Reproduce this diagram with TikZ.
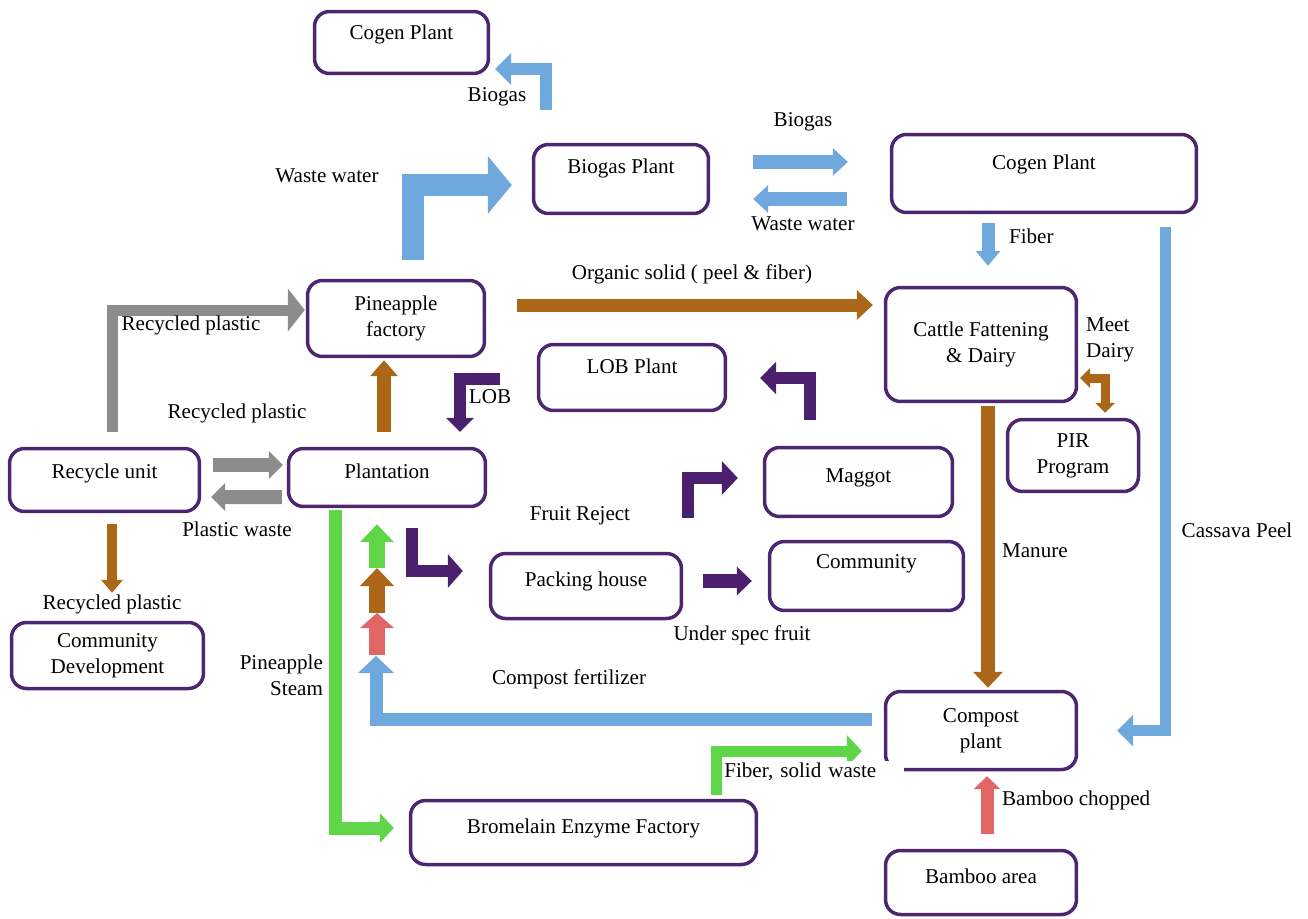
\documentclass[tikz,border=0pt]{standalone}
\usepackage{fontspec}
\setmainfont{Liberation Serif}
\usetikzlibrary{arrows.meta}
\definecolor{boxpurple}{RGB}{78,38,112}
\definecolor{arrpurple}{RGB}{75,32,110}
\definecolor{flowblue}{RGB}{111,168,220}
\definecolor{flowgray}{RGB}{140,140,140}
\definecolor{flowbrown}{RGB}{172,102,24}
\definecolor{flowgreen}{RGB}{94,214,72}
\definecolor{flowred}{RGB}{226,102,102}

\begin{document}
\begin{tikzpicture}[x=0.02cm, y=-0.02cm,
    font=\fontsize{12}{14.8}\selectfont,
    box/.style 2 args={draw=boxpurple, line width=0.07cm, rounded corners=0.3cm, minimum width=#1, minimum height=#2},
    flow/.style n args={4}{draw=#1, line width=#2, line join=miter, -{Triangle[length=#3, width=#4, line width=0pt]}},
    lbl/.style={inner sep=1pt}]
    \useasboundingbox (0,0) rectangle (1308,919);

    % boxes
    \node[box={3.48cm}{1.24cm}, text depth=0.40cm] (cogenA) at (401.5,42.5) {Cogen Plant};
    \node[box={3.50cm}{1.38cm}, text depth=0.52cm] (biogasP) at (621,179) {Biogas Plant};
    \node[box={6.10cm}{1.56cm}, text depth=0.44cm] (cogenB) at (1044,173.5) {Cogen Plant};
    \node[box={3.54cm}{1.52cm}, align=center] (pineF) at (396,318.5) {Pineapple\\factory};
    \node[box={3.82cm}{2.28cm}, align=center] (cattle) at (981,344.5) {Cattle Fattening\\\& Dairy};
    \node[box={3.74cm}{1.32cm}, text depth=0.44cm] (lobP) at (632,377.5) {LOB Plant};
    \node[box={2.62cm}{1.44cm}, align=center] (pir) at (1073,455.5) {PIR\\Program};
    \node[box={3.80cm}{1.26cm}, text depth=0.36cm] (recyc) at (104.5,480) {Recycle unit};
    \node[box={3.94cm}{1.16cm}, text depth=0.24cm] (plant) at (387,477.5) {Plantation};
    \node[box={3.76cm}{1.38cm}, text depth=0.24cm] (maggot) at (858.5,482) {Maggot};
    \node[box={3.88cm}{1.38cm}, text depth=0.56cm] (commA) at (866.5,576) {Community};
    \node[box={3.82cm}{1.30cm}, text depth=0.28cm] (packH) at (586,586) {Packing house};
    \node[box={3.84cm}{1.32cm}, align=center] (commDev) at (107.5,655.5) {Community\\Development};
    \node[box={3.82cm}{1.56cm}, align=center] (compost) at (981,730.5) {Compost\\plant};
    \node[box={6.92cm}{1.28cm}, text depth=0.24cm] (brom) at (583.5,832.5) {Bromelain Enzyme Factory};
    \node[box={3.82cm}{1.28cm}, text depth=0.24cm] (bamboo) at (981,882.5) {Bamboo area};

    % blue flows
    \draw[flow={flowblue}{0.24cm}{0.32cm}{0.64cm}] ([shift={(-75,-33)}]biogasP.north) |- ([shift={(5,26.5)}]cogenA.east);
    \draw[flow={flowblue}{0.44cm}{0.48cm}{1.16cm}] ([shift={(16.5,-19)}]pineF.north) |- ([shift={(-20,6)}]biogasP.west);
    \draw[flow={flowblue}{0.28cm}{0.30cm}{0.56cm}] ([shift={(43,-17)}]biogasP.east) -- ([shift={(-42,-11.5)}]cogenB.west);
    \draw[flow={flowblue}{0.28cm}{0.30cm}{0.56cm}] ([shift={(-43,25.5)}]cogenB.west) -- ([shift={(43,20)}]biogasP.east);
    \draw[flow={flowblue}{0.26cm}{0.30cm}{0.50cm}] ([shift={(-56,9)}]cogenB.south) -- ([shift={(7,-20)}]cattle.north);
    \draw[flow={flowblue}{0.22cm}{0.32cm}{0.64cm}] ([shift={(-33,13)}]cogenB.south east) |- ([shift={(39,0)}]compost.east);

    % gray flows
    \draw[flow={flowgray}{0.22cm}{0.34cm}{0.86cm}] ([shift={(7.5,-15)}]recyc.north) |- ([shift={(-1,-8.5)}]pineF.west);
    \draw[flow={flowgray}{0.28cm}{0.28cm}{0.56cm}] ([shift={(12,-15)}]recyc.east) -- ([shift={(-4,-12.5)}]plant.west);
    \draw[flow={flowgray}{0.28cm}{0.28cm}{0.56cm}] ([shift={(-5,19.5)}]plant.west) -- ([shift={(10,17)}]recyc.east);

    % brown flows
    \draw[flow={flowbrown}{0.26cm}{0.32cm}{0.60cm}] ([shift={(31,-13.5)}]pineF.east) -- ([shift={(-11,-39.5)}]cattle.west);
    \draw[flow={flowbrown}{0.20cm}{0.26cm}{0.44cm}] ([shift={(7.5,11)}]recyc.south) -- ([shift={(4.5,-28)}]commDev.north);
    \draw[flow={flowbrown}{0.28cm}{0.32cm}{0.56cm}] ([shift={(-3,-15)}]plant.north) -- ([shift={(-12,2)}]pineF.south);
    \draw[flow={flowbrown}{0.28cm}{0.32cm}{0.60cm}] ([shift={(7,3)}]cattle.south) -- ([shift={(7,-2)}]compost.north);
    \draw[flow={flowbrown}{0.18cm}{0.20cm}{0.40cm}, {Triangle[length=0.20cm, width=0.40cm, line width=0pt]}-{Triangle[length=0.20cm, width=0.40cm, line width=0pt]}] ([shift={(2,33.5)}]cattle.east) -| ([shift={(32,-5)}]pir.north);

    % purple flows
    \draw[flow={arrpurple}{0.24cm}{0.28cm}{0.56cm}] ([shift={(-37,1.5)}]lobP.west) -| ([shift={(73,-15)}]plant.north);
    \draw[flow={arrpurple}{0.24cm}{0.32cm}{0.66cm}] ([shift={(-48.5,-26)}]maggot.north) |- ([shift={(33,0.5)}]lobP.east);
    \draw[flow={arrpurple}{0.24cm}{0.32cm}{0.68cm}] ([shift={(102,-34)}]packH.north) |- ([shift={(-25,-4)}]maggot.west);
    \draw[flow={arrpurple}{0.24cm}{0.30cm}{0.68cm}] ([shift={(25,20)}]plant.south) |- ([shift={(-26,-15)}]packH.west);
    \draw[flow={arrpurple}{0.28cm}{0.30cm}{0.58cm}] ([shift={(20,-5)}]packH.east) -- ([shift={(-16,5)}]commA.west);

    % green and red flows
    \draw[flow={flowgreen}{0.26cm}{0.28cm}{0.60cm}] ([shift={(-52,2)}]plant.south) |- ([shift={(-15,-4.5)}]brom.west);
    \draw[flow={flowgreen}{0.22cm}{0.30cm}{0.64cm}] ([shift={(132.5,-4)}]brom.north) |- ([shift={(-22,20.5)}]compost.west);
    \draw[flow={flowred}{0.26cm}{0.26cm}{0.54cm}] ([shift={(6,-15)}]bamboo.north) -- ([shift={(6,5)}]compost.south);

    % fertilizer stack under the plantation
    \coordinate (stackA) at (377,568);
    \coordinate (stackB) at (377,613);
    \coordinate (stackC) at (377,655);
    \draw[flow={flowgreen}{0.32cm}{0.36cm}{0.68cm}] (stackA) -- ([shift={(-10,16)}]plant.south);
    \draw[flow={flowbrown}{0.32cm}{0.36cm}{0.68cm}] (stackB) -- (stackA);
    \draw[flow={flowred}{0.32cm}{0.30cm}{0.68cm}] (stackC) -- (stackB);
    \draw[flow={flowblue}{0.26cm}{0.34cm}{0.72cm}] ([shift={(-12,-11.5)}]compost.west) -| ([shift={(-1,1)}]stackC);

    % labels
    \node[lbl] (lBiogasA) at (497,97) {Biogas};
    \node[lbl] (lWasteA) at (327,176) {Waste water};
    \node[lbl] (lBiogasB) at (803,122) {Biogas};
    \node[lbl] (lWasteB) at (803,224) {Waste water};
    \node[lbl, anchor=west] (lFiber) at (1007,236) {Fiber};
    \node[lbl] (lOrganic) at (692,274) {Organic solid ( peel \& fiber)};
    \node[lbl] (lRecA) at (191,325) {Recycled plastic};
    \node[lbl, align=left, anchor=west] (lMeet) at (1084,340) {Meet\\Dairy};
    \node[lbl] (lLob) at (490,397) {LOB};
    \node[lbl] (lRecB) at (237,413) {Recycled plastic};
    \node[lbl] (lPlastic) at (237,529) {Plastic waste};
    \node[lbl] (lReject) at (580,516) {Fruit Reject};
    \node[lbl, anchor=west] (lManure) at (1000,551) {Manure};
    \node[lbl] (lCassava) at (1237,530) {Cassava Peel};
    \node[lbl] (lRecC) at (112,604) {Recycled plastic};
    \node[lbl] (lUnder) at (742,635) {Under spec fruit};
    \node[lbl, align=right, anchor=east] (lSteam) at (325,675) {Pineapple\\Steam};
    \node[lbl] (lCompost) at (569,679) {Compost fertilizer};
    \node[lbl, fill=white, anchor=west, inner xsep=0.04cm, text width=3.56cm] (lFiberSolid) at (722,772) {Fiber, solid waste};
    \node[lbl, anchor=west] (lBamboo) at (1000,800) {Bamboo chopped};
\end{tikzpicture}
\end{document}
